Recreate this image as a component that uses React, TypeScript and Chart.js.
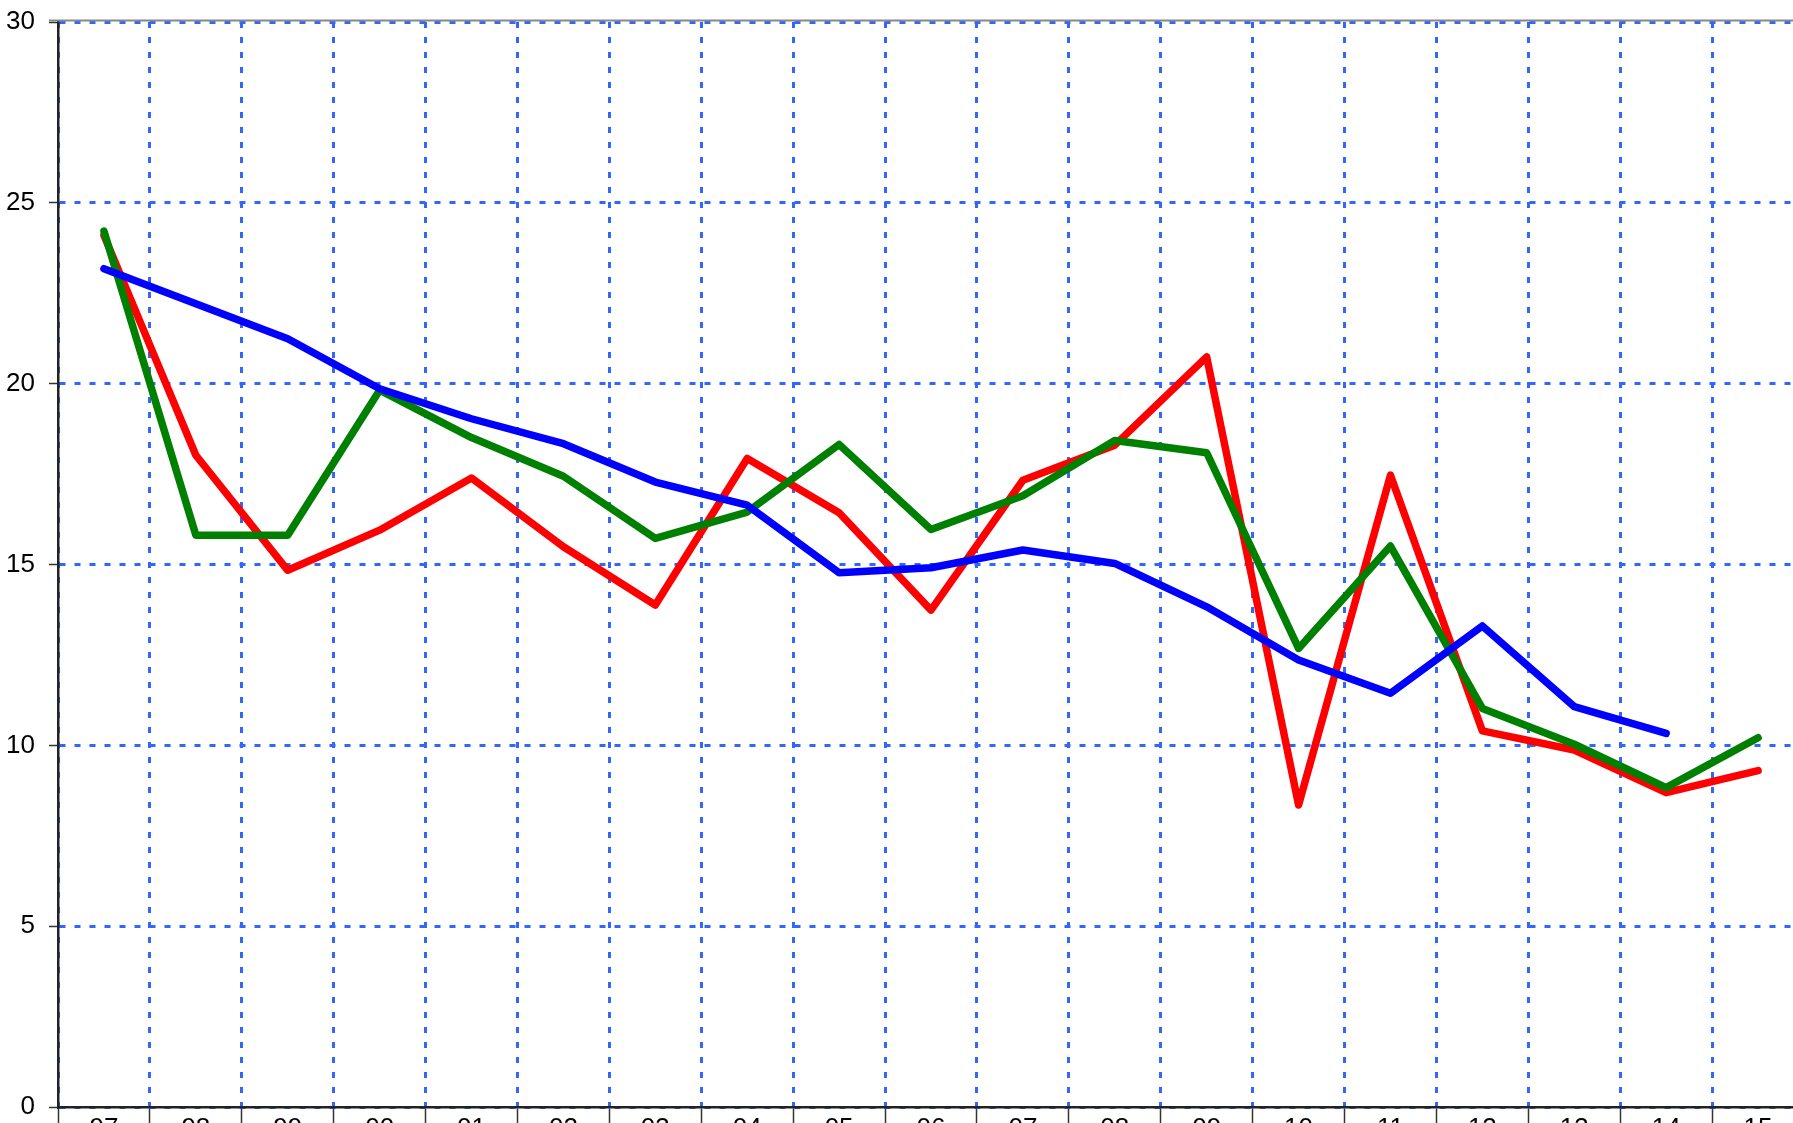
import React, { useEffect, useRef } from 'react';
import { Chart, registerables } from 'chart.js';

Chart.register(...registerables);

const years = ['97', '98', '99', '00', '01', '02', '03', '04', '05', '06', '07', '08', '09', '10', '11', '12', '13', '14', '15'];

const redValues = [24.1, 18.02, 14.84, 15.95, 17.39, 15.49, 13.88, 17.93, 16.43, 13.74, 17.33, 18.3, 20.74, 8.35, 17.47, 10.4, 9.87, 8.69, 9.3];
const greenValues = [24.22, 15.81, 15.81, 19.82, 18.51, 17.44, 15.72, 16.45, 18.32, 15.97, 16.9, 18.43, 18.09, 12.68, 15.51, 11.02, 10.03, 8.83, 10.21];
const blueValues = [23.18, 22.21, 21.24, 19.86, 19.03, 18.34, 17.28, 16.64, 14.77, 14.91, 15.4, 15.03, 13.83, 12.36, 11.44, 13.3, 11.07, 10.33, null];

const yTicks = [0, 5, 10, 15, 20, 25, 30];

const FONT = "'Liberation Sans', Arial, sans-serif";
const GRID_BLUE = '#3366ff';

export default function App() {
  const ref = useRef<HTMLCanvasElement>(null);

  useEffect(() => {
    if (!ref.current) return;
    const topLine = {
      id: 'topLine',
      afterDraw(chart: any) {
        const { ctx, chartArea: a } = chart;
        ctx.save();
        ctx.strokeStyle = '#888888';
        ctx.lineWidth = 2;
        ctx.beginPath();
        ctx.moveTo(a.left - 9, a.top - 1.5);
        ctx.lineTo(a.right, a.top - 1.5);
        ctx.stroke();
        ctx.restore();
      },
    };

    const lineStyle = {
      borderWidth: 7.5,
      pointRadius: 0,
      tension: 0,
      borderCapStyle: 'round' as const,
      borderJoinStyle: 'round' as const,
    };

    const chart = new Chart(ref.current, {
      type: 'line',
      data: {
        labels: years,
        datasets: [
          { label: 'blue', data: blueValues, borderColor: '#0000ff', backgroundColor: '#0000ff', spanGaps: false, ...lineStyle },
          { label: 'green', data: greenValues, borderColor: '#008000', backgroundColor: '#008000', ...lineStyle },
          { label: 'red', data: redValues, borderColor: '#ff0000', backgroundColor: '#ff0000', ...lineStyle },
        ],
      },
      options: {
        animation: false,
        responsive: false,
        maintainAspectRatio: false,
        devicePixelRatio: 1,
        layout: { padding: { top: 22, left: 0, right: 0, bottom: 0 } },
        plugins: {
          legend: { display: false },
          tooltip: { enabled: false },
          title: { display: false },
        },
        scales: {
          x: {
            type: 'category',
            offset: true,
            grid: {
              offset: true,
              color: GRID_BLUE,
              lineWidth: 3,
              borderDash: [6, 9],
              tickColor: '#333333',
              tickWidth: 1.5,
              tickLength: 30,
              tickBorderDash: [],
              drawTicks: true,
            },
            border: { display: true, color: '#222222', width: 2.5, dash: [6, 9] },
            ticks: {
              color: '#000000',
              font: { family: FONT, size: 26 },
              padding: -24,
              maxRotation: 0,
              autoSkip: false,
            },
            afterFit(scale: any) {
              scale.height = 43;
              scale.paddingLeft = 0;
              scale.paddingRight = 0;
            },
          },
          y: {
            type: 'linear',
            min: 0,
            max: 30,
            grid: {
              color: GRID_BLUE,
              lineWidth: 3,
              borderDash: [6, 9],
              tickColor: '#333333',
              tickWidth: 1.5,
              tickLength: 9,
              tickBorderDash: [],
              drawTicks: true,
            },
            border: { display: true, color: '#222222', width: 2.5, dash: [6, 9] },
            ticks: {
              color: '#000000',
              font: { family: FONT, size: 26 },
              padding: 14,
            },
            afterBuildTicks(scale: any) {
              scale.ticks = yTicks.map((v) => ({ value: v }));
            },
            afterFit(scale: any) {
              scale.width = 58;
              scale.paddingTop = 0;
              scale.paddingBottom = 0;
            },
          },
        },
      },
      plugins: [topLine],
    });

    return () => {
      chart.destroy();
    };
  }, []);

  return (
    <div
      style={{
        position: 'fixed',
        left: 0,
        top: 0,
        width: 1793,
        height: 1123,
        overflow: 'hidden',
        background: '#ffffff',
      }}
    >
      <canvas ref={ref} width={1804} height={1150} style={{ display: 'block' }} />
    </div>
  );
}
